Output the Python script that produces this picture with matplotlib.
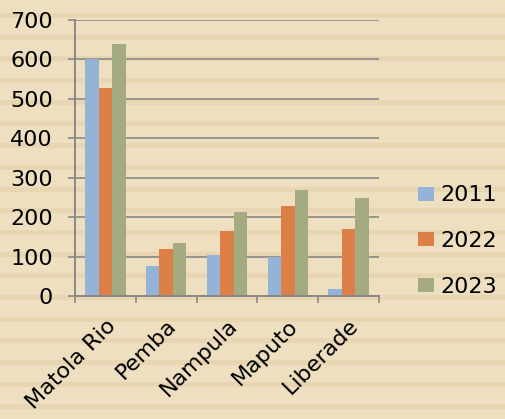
import matplotlib
matplotlib.use("Agg")
import matplotlib.pyplot as plt
import numpy as np
from matplotlib.patches import Rectangle

categories = ["Matola Rio", "Pemba", "Nampula", "Maputo", "Liberade"]
years = ["2011", "2022", "2023"]
v2011 = [600, 76, 104, 98, 19]
v2022 = [527, 119, 164, 227, 169]
v2023 = [640, 134, 213, 268, 249]
colors = ["#95B3D7", "#DD8047", "#A5AB81"]
yticks = [0, 100, 200, 300, 400, 500, 600, 700]

plt.rcParams['font.family'] = ['DejaVu Sans']
W, H = 505, 419
fig = plt.figure(figsize=(W / 100, H / 100), dpi=100)
fig.patch.set_facecolor("#EEDFC0")

# parchment stripes
y = 13.0
while y < H:
    fig.patches.append(Rectangle((0, 1 - (y + 5) / H), 1, 5 / H, transform=fig.transFigure,
                                 facecolor="#E8D6B3", edgecolor="none", zorder=-10))
    y += 21.7

ax = fig.add_axes([75 / W, 1 - 296 / H, (379 - 75) / W, (296 - 20) / H])
ax.set_facecolor("none")

x = np.arange(len(categories))
bw = 0.222
for i, (vals, c, lab) in enumerate(zip([v2011, v2022, v2023], colors, years)):
    ax.bar(x + (i - 1) * bw, vals, width=bw, color=c, label=lab, zorder=3)

ax.set_xlim(-0.5, len(categories) - 0.5)
ax.set_ylim(0, 700)
ax.set_yticks(yticks)
ax.set_yticklabels([str(t) for t in yticks])
ax.yaxis.grid(True, color="#888888", linewidth=1.2, zorder=1)
ax.set_axisbelow(True)

for s in ["top", "right"]:
    ax.spines[s].set_visible(False)
for s in ["left", "bottom"]:
    ax.spines[s].set_color("#888888")
    ax.spines[s].set_linewidth(1.4)
    ax.spines[s].set_zorder(4)

ax.tick_params(axis="y", length=5, width=1.2, color="#888888", pad=11, labelsize=16)
ax.set_xticks(x)
ax.set_xticks(np.arange(-0.5, len(categories), 1.0), minor=True)
ax.set_xticklabels(categories, rotation=45, ha="right", rotation_mode="anchor", fontsize=16)
ax.tick_params(axis="x", which="major", length=0, pad=14)
ax.tick_params(axis="x", which="minor", length=5, width=1.2, color="#888888")

leg = ax.legend(loc="center left", bbox_to_anchor=(418 / W, 1 - 241 / H), bbox_transform=fig.transFigure,
                frameon=False, fontsize=16, handlelength=0.7, handleheight=0.6,
                handletextpad=0.3, labelspacing=1.15, borderpad=0, borderaxespad=0)

fig.savefig("out.png", dpi=100, facecolor=fig.get_facecolor())
